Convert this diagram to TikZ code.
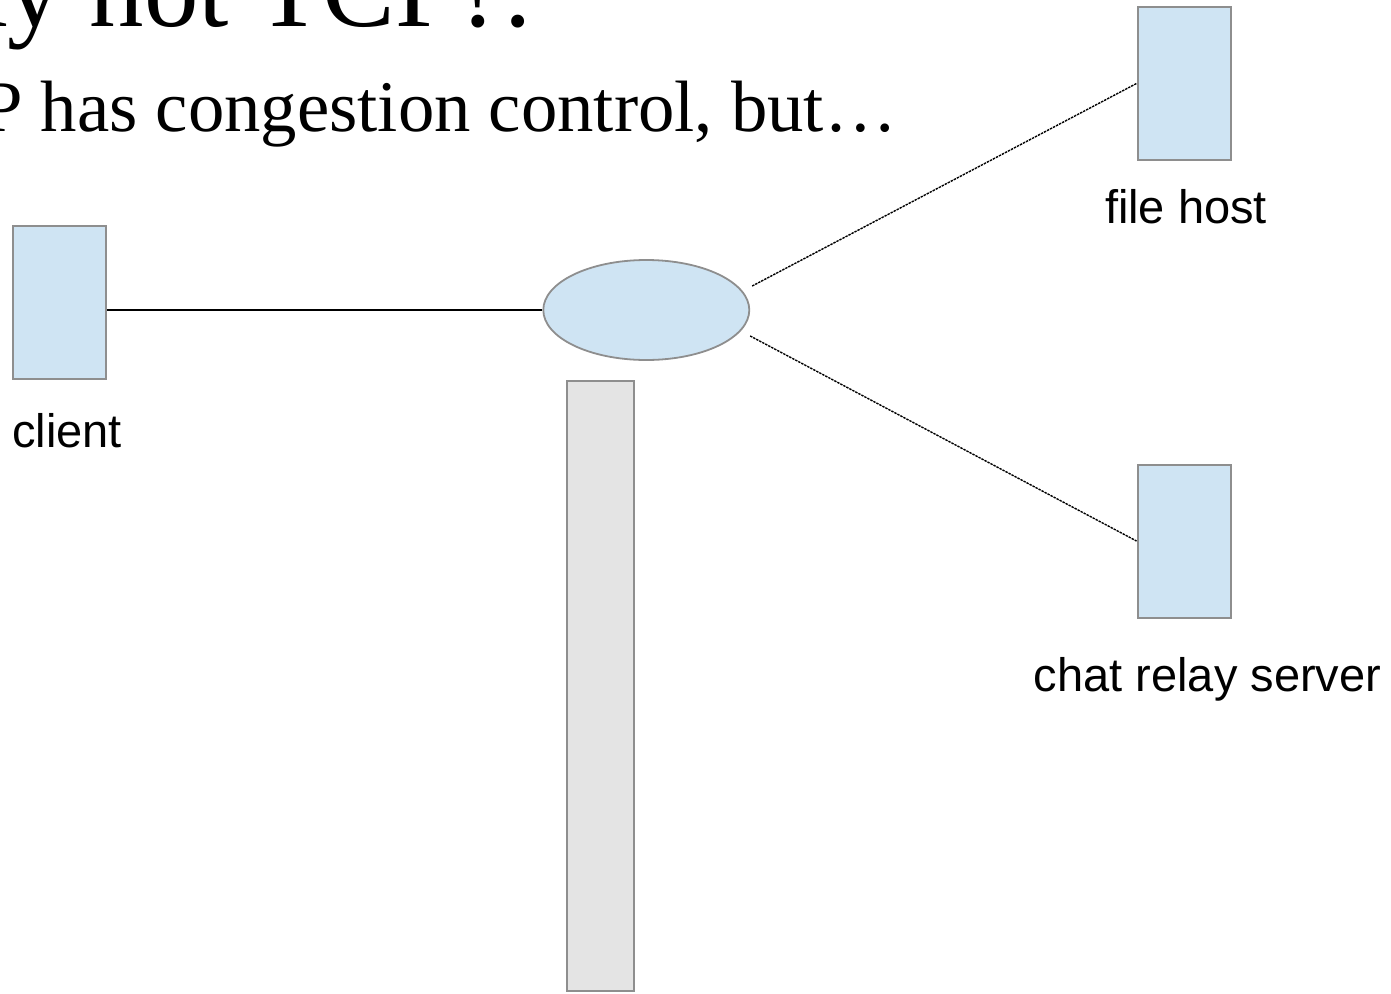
\documentclass[tikz,border=0pt]{standalone}
\usepackage{fontspec}
\setmainfont{Liberation Serif}
\newfontfamily\labelfont{Liberation Sans}
\usetikzlibrary{calc,shapes.geometric}

\definecolor{boxfill}{HTML}{CFE4F3}
\definecolor{boxline}{HTML}{8E8E8E}
\definecolor{barfill}{HTML}{E4E4E4}

\tikzset{
  host/.style={draw=boxline, line width=2pt, fill=boxfill, inner sep=0pt,
    minimum width=93pt, minimum height=153pt},
  hub/.style={ellipse, draw=boxline, line width=1.8pt, fill=boxfill, inner sep=0pt,
    minimum width=206pt, minimum height=100pt},
  pipe/.style={draw=boxline, line width=2pt, fill=barfill, inner sep=0pt,
    minimum width=67pt, minimum height=610pt},
  solidlink/.style={draw=black, line width=1.4pt},
  lossylink/.style={draw=black, line width=1.4pt, dash pattern=on 2.4pt off 1pt},
  hostlabel/.style={anchor=base, inner sep=0pt, font=\labelfont\fontsize{47}{56}\selectfont},
  slidetext/.style={inner sep=0pt}
}

\begin{document}
\begin{tikzpicture}[x=1pt, y=-1pt]
  \useasboundingbox (0,0) rectangle (1391,993);
  \clip (0,0) rectangle (1391,993);

  % slide heading and first bullet line, running off the page at top-left
  \node[slidetext, anchor=base east, font=\fontsize{109}{120}\selectfont]
    (title) at (532,27) {Why not TCP?.};
  \node[slidetext, anchor=base east, font=\fontsize{72.7}{80}\selectfont]
    (bullet) at (897,131) {TCP has congestion control, but\ldots};

  % hosts
  \node[host] (client) at (59.5,302.5) {};
  \node[host] (filehost) at (1184,83.5) {};
  \node[host] (chat) at (1184,541) {};

  % router and its queue
  \node[hub] (router) at (646.3,310) {};
  \node[pipe] (queue) at (600.5,686) {};

  % labels
  \node[hostlabel, anchor=base west] (clientlbl) at (12,447) {client};
  \node[hostlabel] (filelbl) at (1186,223) {file host};
  \node[hostlabel] (chatlbl) at (1207.5,691) {chat relay server};

  % links
  \draw[solidlink] (router.west -| client.east) -- (router.west);
  \coordinate (upstart) at ($(router.east)+(2,-24)$);
  \coordinate (lowstart) at ($(router.east)+(0,26)$);
  \draw[lossylink] (upstart) -- (filehost.west);
  \draw[lossylink] (lowstart) -- (chat.west);
\end{tikzpicture}
\end{document}
